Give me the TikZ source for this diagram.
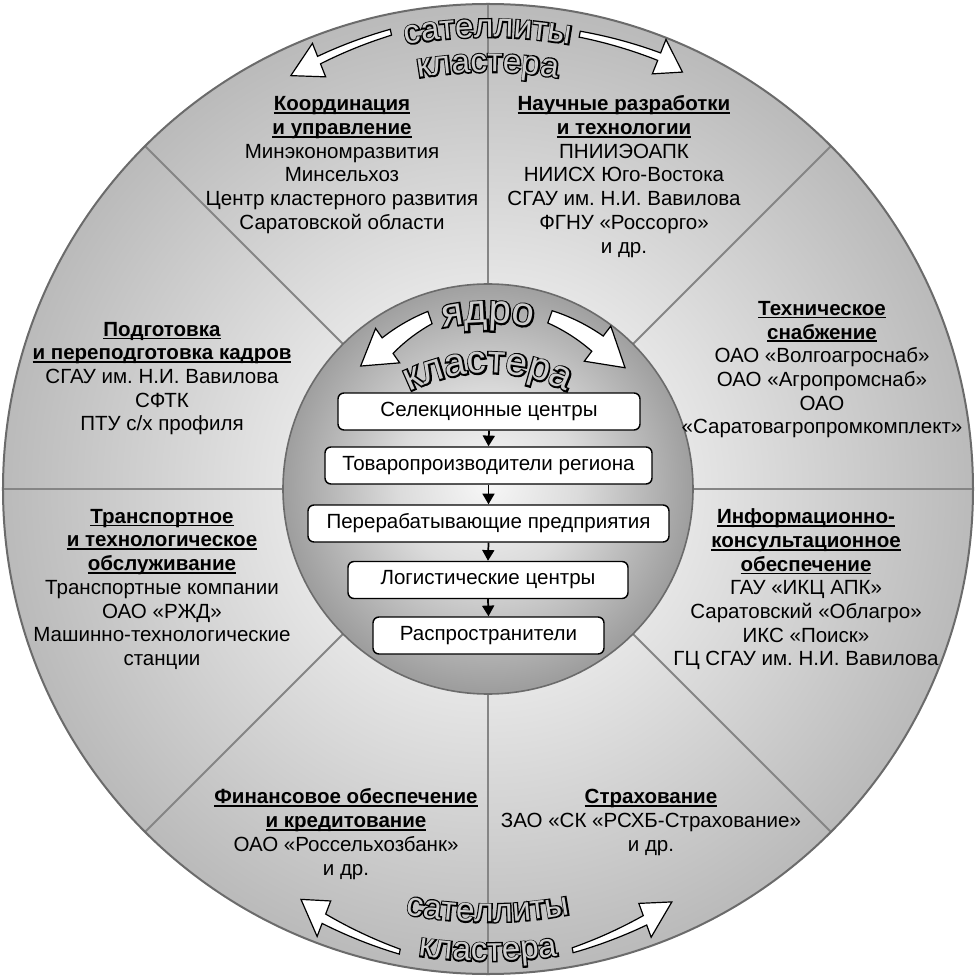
\documentclass[tikz,border=0pt]{standalone}
\usepackage{fontspec}
\setmainfont{Liberation Sans}
\newfontfamily\olfont[FakeBold=8]{Liberation Sans}
\newfontfamily\fillfont{Liberation Sans}
\usetikzlibrary{arrows.meta,decorations.text}
\frenchspacing
\pgfdeclareradialshading{outershade}{\pgfpoint{0bp}{0bp}}{color(0bp)=(white); color(10.5bp)=(black!10); color(25bp)=(black!27); color(50bp)=(black!27)}
\pgfdeclareradialshading{innershade}{\pgfpoint{0bp}{1bp}}{color(0bp)=(black!3); color(11bp)=(black!14); color(25bp)=(black!38); color(50bp)=(black!38)}
\definecolor{letterfill}{gray}{0.80}
\definecolor{divgray}{gray}{0.52}
\definecolor{rimgray}{gray}{0.42}
\newcommand\hd[1]{{\bfseries\setbox0=\hbox{#1}\rlap{\copy0}\rule[-2.4pt]{\wd0}{1.3pt}}}
% outlined text along a path: #1 path, #2 text, #3 size
\newcommand\otext[3]{%
  \path[decorate,decoration={text along path,text align=center,text={|\olfont\fontsize{#3}{#3}\selectfont\color{black}|#2}}] #1;
  \path[decorate,decoration={text along path,text align=center,text={|\fillfont\fontsize{#3}{#3}\selectfont\color{letterfill}|#2}}] #1;}
% curved block arrow: r1 r2 a1 a2 a3 w1 w2 H rtip
\newcommand\ringarrow[9]{%
  \filldraw[arrowshape] plot[domain=#3:#4,samples=25] (\x:{(#1+(#2-#1)*(\x-#3)/(#4-#3))+(#6+(#7-#6)*(\x-#3)/(#4-#3))/2})
    -- (#4:{#2+#8/2}) -- (#5:#9) -- (#4:{#2-#8/2})
    -- plot[domain=#4:#3,samples=25] (\x:{(#1+(#2-#1)*(\x-#3)/(#4-#3))-(#6+(#7-#6)*(\x-#3)/(#4-#3))/2}) -- cycle;}
\begin{document}
\begin{tikzpicture}[x=0.75pt,y=0.75pt,
  arrowshape/.style={fill=white,draw=black,line width=0.9pt,line join=miter},
  divider/.style={draw=divgray,line width=1.5pt},
  corebox/.style={draw=black,fill=white,rounded corners=4.5pt,line width=1.1pt,minimum height=27.75pt,inner sep=0pt,font=\fontsize{15.4}{17}\selectfont},
  flow/.style={-{Triangle[width=9pt,length=8pt]},line width=1.3pt},
  sect/.style={align=center,inner sep=0pt,font=\fontsize{15.4}{17.8}\selectfont}]
\useasboundingbox (-488,-489) rectangle (488,489);
% outer disc
\shade[shading=outershade] (0,0) circle (485);
\foreach \a in {0,45,...,315} \draw[divider] (\a:205) -- (\a:485);
\draw[draw=rimgray,line width=1.5pt] (0,0) circle (485);
% inner disc
\shade[shading=innershade] (0,0) circle (205);
\draw[draw=rimgray,line width=1.2pt] (0,0) circle (205);
% satellites titles and arrows
\otext{(110:452) arc[start angle=110,end angle=70,radius=452]}{сателлиты}{25pt}
\otext{(110:417) arc[start angle=110,end angle=70,radius=417]}{кластера}{25pt}
\otext{(250:433) arc[start angle=250,end angle=290,radius=433]}{сателлиты}{25pt}
\otext{(250:472) arc[start angle=250,end angle=290,radius=472]}{кластера}{25pt}
\ringarrow{467}{461}{102}{111.5}{115.5}{6}{8}{36}{458}
\ringarrow{464}{465}{78.6}{68.4}{65}{6}{8}{37}{460}
\ringarrow{471}{460}{259.2}{249.1}{245.5}{5}{10}{38}{451}
\ringarrow{469}{459}{280.4}{290}{294}{5}{10}{36}{452}
% core title and arrows
\otext{(0,-56) ++(120:222) arc[start angle=120,end angle=60,radius=222]}{ядро}{30pt}
\otext{(0,-60) ++(145:176) arc[start angle=145,end angle=35,radius=176]}{кластера}{29pt}
\ringarrow{181}{175}{108.7}{125}{136}{13}{19}{42}{177}
\ringarrow{183}{182}{70.2}{53}{41.5}{13}{19}{44}{183}
% core chain
\node[corebox,minimum width=226.5pt] (b1) at (1,77.5) {Селекционные центры};
\node[corebox,minimum width=245.25pt] (b2) at (0.5,23.5) {Товаропроизводители региона};
\node[corebox,minimum width=270.75pt] (b3) at (0.5,-34.5) {Перерабатывающие предприятия};
\node[corebox,minimum width=210pt] (b4) at (0,-91) {Логистические центры};
\node[corebox,minimum width=173.25pt] (b5) at (0.5,-146.5) {Распространители};
\draw[flow] (b1.south) -- (b2.north);
\draw[flow] (b2.south) -- (b3.north);
\draw[flow] (b3.south) -- (b4.north);
\draw[flow] (b4.south) -- (b5.north);
% sectors
\node[sect] (s1) at (-146,324) {\hd{Координация}\\ \hd{и управление}\\ Минэкономразвития\\ Минсельхоз\\ Центр кластерного развития\\ Саратовской области};
\node[sect] (s2) at (136,312.4) {\hd{Научные разработки}\\ \hd{и технологии}\\ ПНИИЭОАПК\\ НИИСХ Юго-Востока\\ СГАУ им. Н.И. Вавилова\\ ФГНУ «Россорго»\\ и др.};
\node[sect] (s3) at (334,119.3) {\hd{Техническое}\\ \hd{снабжение}\\ ОАО «Волгоагроснаб»\\ ОАО «Агропромснаб»\\ ОАО\\ «Саратовагропромкомплект»};
\node[sect] (s4) at (318,-100.4) {\hd{Информационно-}\\ \hd{консультационное}\\ \hd{обеспечение}\\ ГАУ «ИКЦ АПК»\\ Саратовский «Облагро»\\ ИКС «Поиск»\\ ГЦ СГАУ им. Н.И. Вавилова};
\node[sect] (s5) at (163,-333.3) {\hd{Страхование}\\ ЗАО «СК «РСХБ-Страхование»\\ и др.};
\node[sect] (s6) at (-142,-345) {\hd{Финансовое обеспечение}\\ \hd{и кредитование}\\ ОАО «Россельхозбанк»\\ и др.};
\node[sect] (s7) at (-326,-100.3) {\hd{Транспортное}\\ \hd{и технологическое}\\ \hd{обслуживание}\\ Транспортные компании\\ ОАО «РЖД»\\ Машинно-технологические\\ станции};
\node[sect] (s8) at (-326,110.4) {\hd{Подготовка}\\ \hd{и переподготовка кадров}\\ СГАУ им. Н.И. Вавилова\\ СФТК\\ ПТУ с/х профиля};
\end{tikzpicture}
\end{document}
